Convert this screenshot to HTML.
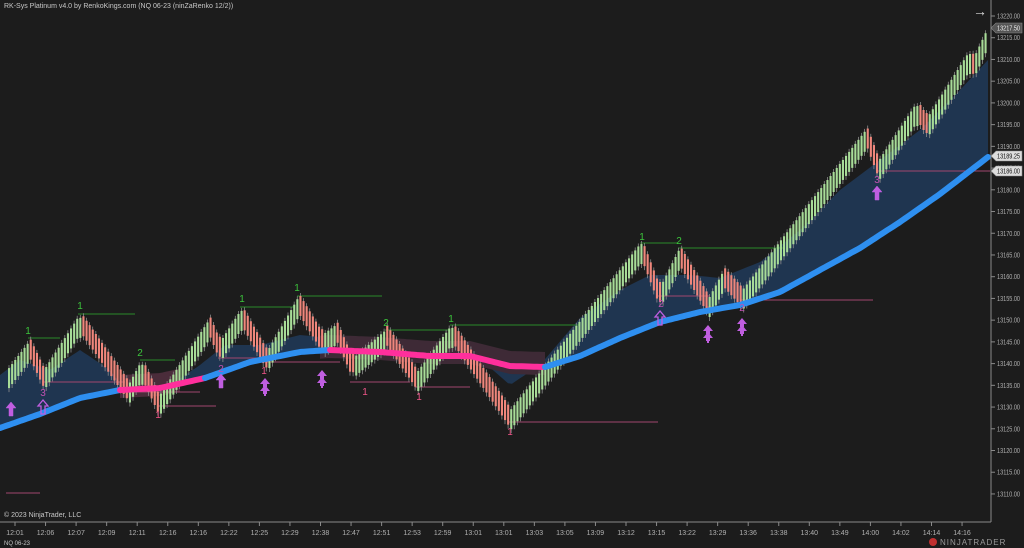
<!DOCTYPE html>
<html><head><meta charset="utf-8"><style>
html,body{margin:0;padding:0;background:#1c1c1c;width:1024px;height:548px;overflow:hidden}
svg{display:block}
text{font-family:"Liberation Sans",sans-serif}
</style></head><body>
<svg id="s" width="1024" height="548" xmlns="http://www.w3.org/2000/svg">
<rect width="1024" height="548" fill="#1c1c1c"/>
<g id="cloud"></g>
<g id="lines"></g>
<g id="bars"></g>
<g id="ema"></g>
<g id="ann"></g>
<line x1="991" y1="0" x2="991" y2="522" stroke="#8a8a8a" stroke-width="1"/>
<line x1="0" y1="522" x2="991" y2="522" stroke="#8a8a8a" stroke-width="1"/>
<g id="axis"></g>
<text x="4" y="8" font-size="7" fill="#c8c8c8">RK-Sys Platinum v4.0 by RenkoKings.com (NQ 06-23 (ninZaRenko 12/2))</text>
<text x="4" y="517" font-size="7" fill="#c8c8c8">© 2023 NinjaTrader, LLC</text>
<text x="4" y="545" font-size="6" fill="#c8c8c8">NQ 06-23</text>
<text x="940" y="545" font-size="8" fill="#9a9a9a" letter-spacing="1">NINJATRADER</text>
<circle cx="933" cy="542" r="4" fill="#c03030"/>
<text x="973" y="16" font-size="14" fill="#ddd">→</text>
<line x1="6" y1="493" x2="40" y2="493" stroke="#a0466e" stroke-width="1"/>
</svg>
<script>
const NS="http://www.w3.org/2000/svg";
function el(p,t,a,txt){const e=document.createElementNS(NS,t);for(const k in a)e.setAttribute(k,a[k]);if(txt!==undefined)e.textContent=txt;document.getElementById(p).appendChild(e);return e;}
const W=[[5,372],[28,342],[42,372],[78,316],[127,386],[140,362],[157,398],[208,320],[218,344],[240,310],[265,354],[297,298],[320,336],[335,325],[350,360],[385,330],[415,374],[450,326],[508,412],[640,243],[658,290],[678,250],[707,300],[722,272],[740,292],[865,130],[877,162],[915,104],[925,120],[968,52],[972,60],[986,30]];
function yAt(x){for(let i=0;i<W.length-1;i++){if(x>=W[i][0]&&x<=W[i+1][0]){const t=(x-W[i][0])/(W[i+1][0]-W[i][0]);return W[i][1]+t*(W[i+1][1]-W[i][1]);}}return W[W.length-1][1];}
const E=[[0,428],[40,414],[80,398],[120,390],[160,388],[205,378],[250,362],[300,352],[330,350],[380,352],[430,356],[470,356],[510,366],[545,367],[580,356],[620,338],[660,322],[700,312],[740,305],[780,292],[820,270],[860,248],[900,222],[940,194],[988,157]];
function eAt(x){for(let i=0;i<E.length-1;i++){if(x>=E[i][0]&&x<=E[i+1][0]){const t=(x-E[i][0])/(E[i+1][0]-E[i][0]);return E[i][1]+t*(E[i+1][1]-E[i][1]);}}return E[E.length-1][1];}
const C=[[0,375],[20,360],[50,370],[80,350],[110,370],[125,390],[140,378],[160,392],[200,365],[225,345],[260,345],[300,335],[330,338],[360,350],[400,350],[440,345],[470,350],[510,385],[540,365],[580,318],[620,290],[650,275],[690,275],[720,278],[760,262],[800,230],[840,190],[880,160],[920,130],[960,90],[988,60]];
function cAt(x){for(let i=0;i<C.length-1;i++){if(x>=C[i][0]&&x<=C[i+1][0]){const t=(x-C[i][0])/(C[i+1][0]-C[i][0]);return C[i][1]+t*(C[i+1][1]-C[i][1]);}}return C[C.length-1][1];}
let up=[],dn=[];
for(let x=0;x<=988;x+=4){up.push(x+","+cAt(x).toFixed(1));dn.unshift(x+","+eAt(x).toFixed(1));}
el("cloud","polygon",{points:up.concat(dn).join(" "),fill:"#1f3550"});
function seg(a,b,col){let u=[],d=[];for(let x=a;x<=b;x+=3){u.push(x+","+(Math.min(cAt(x),eAt(x)-15)).toFixed(1));d.unshift(x+","+(eAt(x)+8).toFixed(1));}el("cloud","polygon",{points:u.concat(d).join(" "),fill:col});}
seg(120,180,"#4a2c3a");seg(320,545,"#3e2a36");
let prev=yAt(5);
for(let x=8;x<=986;x+=3.1){const y=yAt(x);const upb=y<prev-0.01;
 const col=upb?"#a8dc98":"#f0877c";
 let top,bot;
 if(upb){top=y;bot=y+20;}else{top=y-6;bot=y+14;}
 el("bars","line",{x1:x+1,y1:top-3,x2:x+1,y2:bot+4,stroke:"#8c8c8c","stroke-width":0.8});
 el("bars","rect",{x:x,y:top,width:2.1,height:bot-top,fill:col});
 prev=y;}
const segsC=[[0,120,"#2e8ff0"],[120,205,"#ff2f9c"],[205,330,"#2e8ff0"],[330,545,"#ff2f9c"],[545,988,"#2e8ff0"]];
for(const [a,b,c] of segsC){let p=[];for(let x=a;x<=b;x+=3)p.push(x+","+eAt(x).toFixed(1));p.push(b+","+eAt(b).toFixed(1));el("ema","polyline",{points:p.join(" "),fill:"none",stroke:c,"stroke-width":6,"stroke-linecap":"round"});}
const G="#2a8a2a",P="#a0466e";
const hl=[[28,338,60,G],[78,314,135,G],[140,360,175,G],[240,307,295,G],[297,296,382,G],[385,330,450,G],[450,325,580,G],[640,243,678,G],[678,248,785,G],
[42,382,125,P],[127,392,200,P],[157,406,216,P],[218,358,270,P],[265,362,340,P],[350,382,410,P],[415,387,470,P],[508,422,658,P],[658,296,710,P],[707,307,740,P],[740,300,873,P],[877,171,990,P]];
for(const [a,y,b,c] of hl)el("lines","line",{x1:a,y1:y,x2:b,y2:y,stroke:c,"stroke-width":1});
const lb=[[28,334,"1","#3cc43c"],[80,309,"1","#3cc43c"],[140,356,"2","#3cc43c"],[242,302,"1","#3cc43c"],[297,291,"1","#3cc43c"],[386,326,"2","#3cc43c"],[451,322,"1","#3cc43c"],[642,240,"1","#3cc43c"],[679,244,"2","#3cc43c"],
[43,396,"3","#c050b0"],[221,372,"2","#c050b0"],[158,418,"1","#ee5588"],[365,395,"1","#ee5588"],[419,400,"1","#ee5588"],[510,435,"1","#ee5588"],[661,307,"2","#c050b0"],[877,183,"3","#c050b0"],[264,374,"1","#ee5588"],[742,311,"2","#c050b0"]];
for(const [x,y,t,c] of lb)el("ann","text",{x:x,y:y,"font-size":10,fill:c,"text-anchor":"middle"},t);
function arrow(x,y,hollow){el("ann","path",{d:`M${x} ${y} l-5 6 h3 v8 h4 v-8 h3 z`,fill:hollow?"none":"#c05ee0",stroke:"#c05ee0","stroke-width":hollow?1.3:0.5});}
function dbl(x,y){for(const d of [0,7])el("ann","path",{d:`M${x} ${y+d} l-5 6 h3 v3 h4 v-3 h3 z`,fill:"#c05ee0"});el("ann","rect",{x:x-1,y:y+14,width:2,height:4,fill:"#c05ee0"});}
arrow(11,402,false);arrow(43,400,true);arrow(221,374,false);dbl(265,378);dbl(322,370);arrow(660,311,true);dbl(708,325);dbl(742,318);arrow(877,186,false);
for(let p=13220;p>=13110;p-=5){const y=16+(13220-p)*4.345;el("axis","line",{x1:991,y1:y,x2:995,y2:y,stroke:"#8a8a8a"});el("axis","text",{x:997,y:y+2.5,"font-size":7,fill:"#b0b0b0",textLength:23,lengthAdjust:"spacingAndGlyphs"},p.toFixed(2));}
function tag(y,t,bg,fg){el("axis","path",{d:`M991 ${y} l5 -5 h26 v10 h-26 z`,fill:bg,stroke:"#888","stroke-width":0.6});el("axis","text",{x:997,y:y+2.5,"font-size":7,fill:fg,textLength:23,lengthAdjust:"spacingAndGlyphs"},t);}
tag(28,"13217.50","#555","#eee");tag(156,"13189.25","#ddd","#111");tag(171,"13186.00","#ddd","#111");
const tl="12:01 12:06 12:07 12:09 12:11 12:16 12:16 12:22 12:25 12:29 12:38 12:47 12:51 12:53 12:59 13:01 13:01 13:03 13:05 13:09 13:12 13:15 13:22 13:29 13:36 13:38 13:40 13:49 14:00 14:02 14:14 14:16".split(" ");
tl.forEach((t,i)=>{const x=15+i*30.55;el("axis","line",{x1:x,y1:522,x2:x,y2:526,stroke:"#8a8a8a"});el("axis","text",{x:x,y:535,"font-size":7,fill:"#b0b0b0","text-anchor":"middle"},t);});
</script>
</body></html>
